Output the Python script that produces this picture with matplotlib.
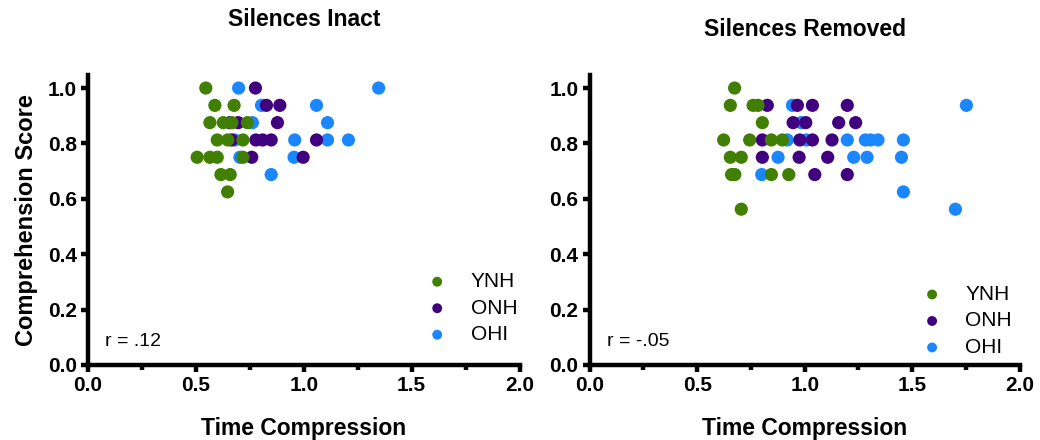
import numpy as np
import matplotlib.pyplot as plt
from matplotlib.ticker import MultipleLocator

plt.rcParams['font.family'] = ['Liberation Sans', 'DejaVu Sans']

groups = ['YNH', 'ONH', 'OHI']
colors = {'YNH': '#407f00', 'ONH': '#40007f', 'OHI': '#1a86ff'}

# silences intact
inact_ynh_x = [0.546, 0.588, 0.677, 0.565, 0.627, 0.667, 0.739, 0.599, 0.648, 0.718,
               0.506, 0.565, 0.599, 0.718, 0.616, 0.659, 0.647]
inact_ynh_y = [1.0, 0.9375, 0.9375, 0.875, 0.875, 0.875, 0.875, 0.8125, 0.8125, 0.8125,
               0.75, 0.75, 0.75, 0.75, 0.6875, 0.6875, 0.625]
inact_onh_x = [0.776, 0.827, 0.889, 0.657, 0.696, 0.878, 0.665, 0.778, 0.809, 0.849,
               1.059, 0.759, 0.997]
inact_onh_y = [1.0, 0.9375, 0.9375, 0.875, 0.875, 0.875, 0.8125, 0.8125, 0.8125, 0.8125,
               0.8125, 0.75, 0.75]
inact_ohi_x = [0.698, 1.347, 0.804, 1.059, 0.762, 1.110, 0.680, 0.958, 1.110, 1.207,
               0.704, 0.955, 0.849]
inact_ohi_y = [1.0, 1.0, 0.9375, 0.9375, 0.875, 0.875, 0.8125, 0.8125, 0.8125, 0.8125,
               0.75, 0.75, 0.6875]

# silences removed
rem_ynh_x = [0.674, 0.654, 0.760, 0.783, 0.803, 0.623, 0.744, 0.845, 0.896, 0.654,
             0.705, 0.660, 0.675, 0.845, 0.926, 0.705]
rem_ynh_y = [1.0, 0.9375, 0.9375, 0.9375, 0.875, 0.8125, 0.8125, 0.8125, 0.8125, 0.75,
             0.75, 0.6875, 0.6875, 0.6875, 0.6875, 0.5625]
rem_onh_x = [0.826, 0.966, 1.036, 1.198, 0.946, 1.005, 1.158, 1.237, 0.803, 0.977,
             1.036, 1.127, 0.803, 0.974, 1.107, 1.047, 1.198]
rem_onh_y = [0.9375, 0.9375, 0.9375, 0.9375, 0.875, 0.875, 0.875, 0.875, 0.8125, 0.8125,
             0.8125, 0.8125, 0.75, 0.75, 0.75, 0.6875, 0.6875]
rem_ohi_x = [0.943, 1.752, 0.984, 0.919, 1.008, 1.198, 1.282, 1.306, 1.341, 1.459,
             0.876, 1.228, 1.290, 1.450, 0.800, 1.459, 1.701]
rem_ohi_y = [0.9375, 0.9375, 0.875, 0.8125, 0.8125, 0.8125, 0.8125, 0.8125, 0.8125, 0.8125,
             0.75, 0.75, 0.75, 0.75, 0.6875, 0.625, 0.5625]

panels = [
    ('Silences Inact', 'r = .12',
     {'YNH': (inact_ynh_x, inact_ynh_y), 'ONH': (inact_onh_x, inact_onh_y),
      'OHI': (inact_ohi_x, inact_ohi_y)}),
    ('Silences Removed', 'r = -.05',
     {'YNH': (rem_ynh_x, rem_ynh_y), 'ONH': (rem_onh_x, rem_onh_y),
      'OHI': (rem_ohi_x, rem_ohi_y)}),
]

fig = plt.figure(figsize=(10.4, 4.4), dpi=100)
ax1 = fig.add_axes([0.0846, 0.1705, 0.415, 0.659])
ax2 = fig.add_axes([0.567, 0.1705, 0.4135, 0.659])

title_y = [1.139, 1.105]
leg_pos = [(0.785, 0.32), (0.772, 0.276)]

for ax, (title, rtxt, data), ty, lp in zip([ax1, ax2], panels, title_y, leg_pos):
    # blue first, green last so green sits on top
    for g in ['OHI', 'ONH', 'YNH']:
        x, y = data[g]
        ax.scatter(x, y, s=90, color=colors[g], edgecolors='none', label=g, zorder=3)
    ax.set_xlim(0, 2.0)
    ax.set_ylim(0, 1.047)
    ax.xaxis.set_major_locator(MultipleLocator(0.5))
    ax.xaxis.set_minor_locator(MultipleLocator(0.25))
    ax.yaxis.set_major_locator(MultipleLocator(0.2))
    ax.spines['top'].set_visible(False)
    ax.spines['right'].set_visible(False)
    for s in ['left', 'bottom']:
        ax.spines[s].set_linewidth(3.2)
    ax.tick_params(which='major', direction='out', length=5, width=3.2,
                   labelsize=15, pad=3)
    ax.tick_params(which='minor', direction='out', length=3.5, width=3.2)
    for lab in ax.get_xticklabels() + ax.get_yticklabels():
        lab.set_fontweight('bold')
    ax.set_xlabel('Time Compression', fontsize=16.5, fontweight='bold', labelpad=16)
    ax.set_title(title, fontsize=16.5, fontweight='bold', y=ty)
    ax.text(0.04, 0.08, rtxt, transform=ax.transAxes, fontsize=14, va='center')

    handles, labels = ax.get_legend_handles_labels()
    order = [labels.index(g) for g in groups]
    ax.legend([handles[i] for i in order], [labels[i] for i in order],
              loc='upper left', bbox_to_anchor=lp, frameon=False, borderpad=0,
              borderaxespad=0, fontsize=15, markerscale=0.75, handletextpad=1.1,
              labelspacing=0.36, handlelength=1.0)

ax1.set_ylabel('Comprehension Score', fontsize=17, fontweight='bold', labelpad=7)

fig.savefig('out.png', dpi=100)
